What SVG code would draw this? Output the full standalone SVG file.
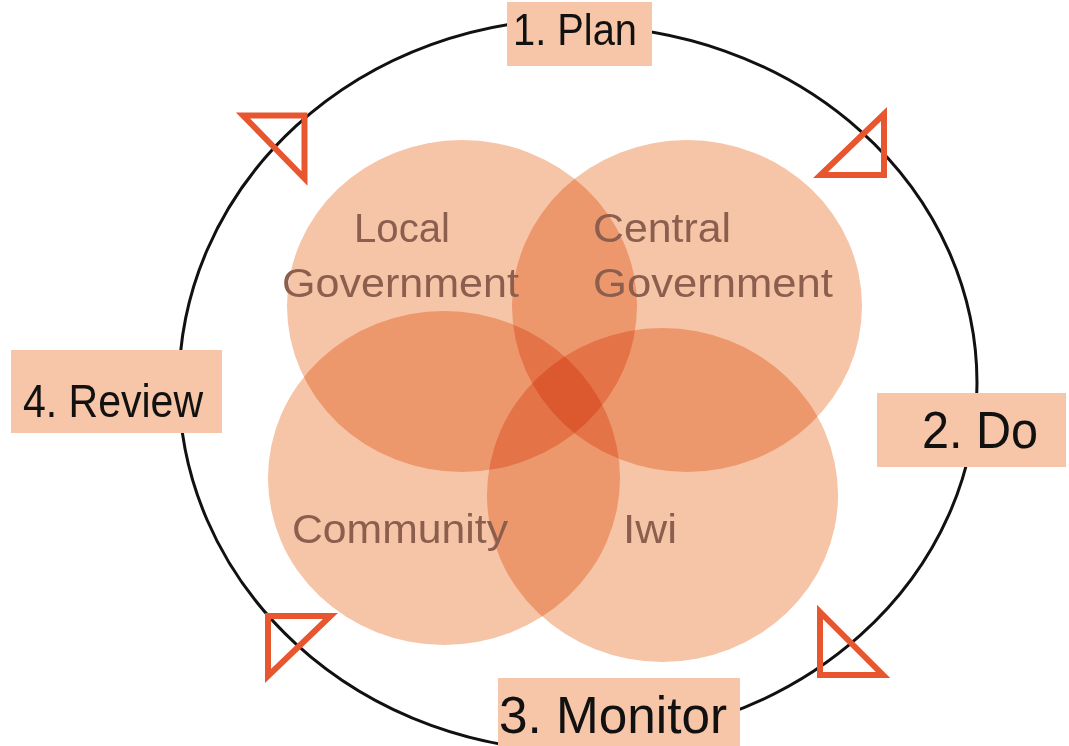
<svg xmlns="http://www.w3.org/2000/svg" width="1069" height="746" viewBox="0 0 1069 746">
<defs>
<style>
.ring{fill:none;stroke:#111;stroke-width:3}
.tri{fill:none;stroke:#E8562F;stroke-width:6;stroke-linejoin:miter}
.box{fill:#F7C5A7}
.lbl{font-family:"Liberation Sans",Arial,sans-serif;fill:#111}
.petal{fill:#F6C4A6;mix-blend-mode:multiply}
.ptxt{font-family:"Liberation Sans",Arial,sans-serif;font-size:41px;fill:#8B5E4E}
</style>
</defs>
<rect x="0" y="0" width="1069" height="746" fill="#fff"/>
<g id="connectors">
<path class="ring" d="M 578 19 A 399 366 0 0 0 578 751"/>
<path class="ring" d="M 578 26 A 399 357 0 0 1 578 740"/>
<polygon class="tri" points="243,115.5 304.5,115.5 304.5,178.5"/>
<polygon class="tri" points="884,114 884,175 820.5,175"/>
<polygon class="tri" points="268,616 330.5,616 268,676"/>
<polygon class="tri" points="820,612 883,675 820,675"/>
</g>
<g id="node-plan">
<rect class="box" x="507" y="2" width="145" height="64"/>
<text class="lbl" x="513" y="45" font-size="44" textLength="124" lengthAdjust="spacingAndGlyphs">1. Plan</text>
</g>
<g id="node-do">
<rect class="box" x="877" y="393" width="189" height="74"/>
<text class="lbl" x="922" y="448" font-size="52" textLength="116" lengthAdjust="spacingAndGlyphs">2. Do</text>
</g>
<g id="node-monitor">
<rect class="box" x="498" y="678" width="242" height="68"/>
<text class="lbl" x="499" y="733" font-size="52" textLength="228" lengthAdjust="spacingAndGlyphs">3. Monitor</text>
</g>
<g id="node-review">
<rect class="box" x="11" y="350" width="211" height="83"/>
<text class="lbl" x="23" y="417" font-size="46" textLength="180" lengthAdjust="spacingAndGlyphs">4. Review</text>
</g>
<g id="petals" style="isolation:isolate">
<ellipse id="node-local" class="petal" cx="462" cy="306" rx="175" ry="166"/>
<ellipse id="node-central" class="petal" cx="687" cy="306" rx="175" ry="166"/>
<ellipse id="node-community" class="petal" cx="444" cy="478" rx="176" ry="167"/>
<ellipse id="node-iwi" class="petal" cx="662.5" cy="495" rx="175.5" ry="167"/>
</g>
<g id="petal-labels">
<text class="ptxt" x="354" y="242" textLength="96" lengthAdjust="spacingAndGlyphs">Local</text>
<text class="ptxt" x="282" y="297" textLength="237" lengthAdjust="spacingAndGlyphs">Government</text>
<text class="ptxt" x="593" y="242" textLength="138" lengthAdjust="spacingAndGlyphs">Central</text>
<text class="ptxt" x="593" y="297" textLength="240" lengthAdjust="spacingAndGlyphs">Government</text>
<text class="ptxt" x="292" y="543" textLength="216" lengthAdjust="spacingAndGlyphs">Community</text>
<text class="ptxt" x="623" y="543" textLength="54" lengthAdjust="spacingAndGlyphs">Iwi</text>
</g>
</svg>
